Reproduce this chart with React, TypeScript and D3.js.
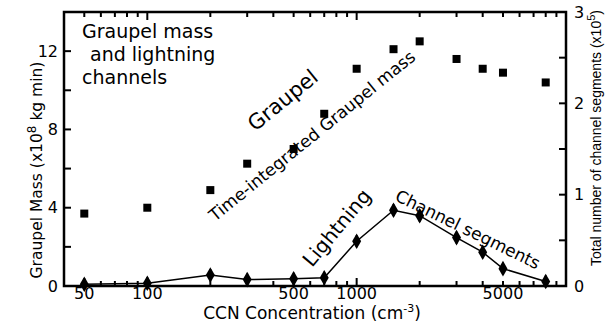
import { useEffect } from 'react';
import * as d3 from 'd3';

// CCN concentrations (cm^-3) of the model runs
const ccn = [50, 100, 200, 300, 500, 700, 1000, 1500, 2000, 3000, 4000, 5000, 8000];
// time-integrated graupel mass (x10^8 kg min), left axis
const graupelMass = [3.7, 4.0, 4.9, 6.25, 7.0, 8.8, 11.1, 12.1, 12.5, 11.6, 11.1, 10.9, 10.4];
// total number of lightning channel segments (x10^5), right axis
const channelSegments = [0.02, 0.03, 0.12, 0.07, 0.08, 0.09, 0.49, 0.83, 0.77, 0.53, 0.37, 0.19, 0.05];

const xTickLabels = [50, 100, 500, 1000, 5000];
const leftTicks = [0, 2, 4, 6, 8, 10, 12];
const leftTickLabels = [0, 4, 8, 12];
const rightTicks = [0, 0.5, 1, 1.5, 2, 2.5, 3];
const rightTickLabels = [0, 1, 2, 3];

const W = 607;
const H = 322;
const margin = { top: 12, right: 41, bottom: 36, left: 64 };
const FONT = '"DejaVu Sans", Arial, sans-serif';

export default function App() {
  useEffect(() => {
    document.body.style.margin = '0';
  }, []);

  const x0 = margin.left;
  const x1 = W - margin.right;
  const y0 = H - margin.bottom;
  const y1 = margin.top;

  const x = d3.scaleLog().domain([40, 10000]).range([x0, x1]);
  const yL = d3.scaleLinear().domain([0, 14]).range([y0, y1]);
  const yR = d3.scaleLinear().domain([0, 3]).range([y0, y1]);

  const minorX = x.ticks().filter((t) => t > 40 && t < 10000);
  const isDecade = (t: number) => Math.abs(Math.log10(t) - Math.round(Math.log10(t))) < 1e-9;

  const pts = ccn.map((c, i) => [x(c), yR(channelSegments[i])] as [number, number]);
  const linePath = d3.line()(pts) || '';
  const diamond = d3.symbol().type(d3.symbolDiamond).size(70)() || '';

  return (
    <svg width={W} height={H} style={{ display: 'block', background: '#fff' }} fontFamily={FONT}>
      {/* ticks on all four sides, pointing inward */}
      {minorX.map((t) => {
        const len = isDecade(t) ? 8 : 5;
        return (
          <g key={'xt' + t} stroke="#000" strokeWidth={2}>
            <line x1={x(t)} x2={x(t)} y1={y0} y2={y0 - len} />
            <line x1={x(t)} x2={x(t)} y1={y1} y2={y1 + len} />
          </g>
        );
      })}
      {leftTicks.map((t) => (
        <line key={'lt' + t} x1={x0} x2={x0 + 7} y1={yL(t)} y2={yL(t)} stroke="#000" strokeWidth={2} />
      ))}
      {rightTicks.map((t) => (
        <line key={'rt' + t} x1={x1} x2={x1 - 7} y1={yR(t)} y2={yR(t)} stroke="#000" strokeWidth={2} />
      ))}

      {/* frame */}
      <rect x={x0} y={y1} width={x1 - x0} height={y0 - y1} fill="none" stroke="#000" strokeWidth={2.5} />

      {/* tick labels */}
      {xTickLabels.map((t) => (
        <text key={'xl' + t} x={x(t)} y={299} fontSize={16} textAnchor="middle">
          {t}
        </text>
      ))}
      {leftTickLabels.map((t) => (
        <text key={'ll' + t} x={58} y={yL(t)} dy="0.36em" fontSize={16} textAnchor="end">
          {t}
        </text>
      ))}
      {rightTickLabels.map((t) => (
        <text key={'rl' + t} x={574} y={yR(t)} dy="0.36em" fontSize={16} textAnchor="start">
          {t}
        </text>
      ))}

      {/* axis titles */}
      <text x={312} y={319} fontSize={17} textAnchor="middle">
        CCN Concentration (cm
        <tspan fontSize={11} dy={-7}>-3</tspan>
        <tspan dy={7}>)</tspan>
      </text>
      <text transform="translate(42,170) rotate(-90)" fontSize={15.5} textAnchor="middle">
        Graupel Mass (x10
        <tspan fontSize={12} dy={-6}>8</tspan>
        <tspan dy={6}> kg min)</tspan>
      </text>
      <text
        transform="translate(601,138) rotate(-90)"
        fontSize={14}
        fontFamily='"Liberation Sans", Arial, sans-serif'
        textAnchor="middle"
      >
        Total number of channel segments (x10
        <tspan fontSize={11} dy={-6}>5</tspan>
        <tspan dy={6}>)</tspan>
      </text>

      {/* graupel squares */}
      {ccn.map((c, i) => (
        <rect key={'g' + c} x={x(c) - 4} y={yL(graupelMass[i]) - 4} width={8} height={8} fill="#000" />
      ))}

      {/* lightning channel segments */}
      <path d={linePath} fill="none" stroke="#000" strokeWidth={1.5} />
      {pts.map(([px, py], i) => (
        <g key={'l' + i} transform={`translate(${px},${py})`}>
          <line y1={-6} y2={6} stroke="#000" strokeWidth={2} />
          <path d={diamond} fill="#000" />
        </g>
      ))}

      {/* annotations */}
      <g fontSize={19}>
        <text x={82} y={38}>Graupel mass</text>
        <text x={90} y={61}>and lightning</text>
        <text x={82} y={84}>channels</text>
      </g>
      <text transform="translate(255,132) rotate(-39)" fontSize={21}>
        Graupel
      </text>
      <text transform="translate(215,222) rotate(-39)" fontSize={17}>
        Time-integrated Graupel mass
      </text>
      <text transform="translate(312,268) rotate(-50)" fontSize={20}>
        Lightning
      </text>
      <text transform="translate(394,200) rotate(26)" fontSize={17}>
        Channel segments
      </text>
    </svg>
  );
}
